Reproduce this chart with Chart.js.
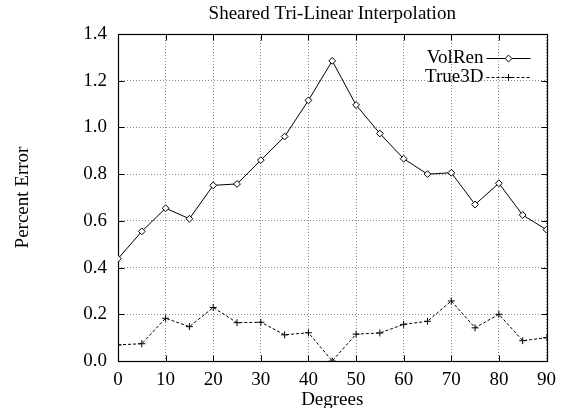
<!DOCTYPE html>
<html><head><meta charset="utf-8">
<script src="https://cdn.jsdelivr.net/npm/chart.js@4/dist/chart.umd.min.js"></script>
<style>html,body{margin:0;padding:0;background:#fff}</style>
</head><body>
<canvas id="c" width="564" height="408"></canvas>
<script>
const degrees = [0,5,10,15,20,25,30,35,40,45,50,55,60,65,70,75,80,85,90];
const volRen  = [0.438,0.555,0.654,0.609,0.752,0.758,0.860,0.961,1.116,1.285,1.096,0.974,0.866,0.800,0.806,0.670,0.761,0.625,0.562];
const true3D  = [0.069,0.074,0.183,0.147,0.229,0.164,0.166,0.112,0.121,0.000,0.115,0.120,0.157,0.170,0.257,0.142,0.200,0.087,0.100];
const xTicks = [0,10,20,30,40,50,60,70,80,90];
const yTicks = [0.0,0.2,0.4,0.6,0.8,1.0,1.2,1.4];
const seriesNames = ['VolRen','True3D'];
const titleText = 'Sheared Tri-Linear Interpolation';
const xTitle = 'Degrees';
const yTitle = 'Percent Error';

const FONT = "'Liberation Serif','Times New Roman',serif";
Chart.defaults.font.family = FONT;
Chart.defaults.color = '#000';

const framePlugin = {
  id: 'frame',
  beforeDatasetsDraw(chart) {
    const {ctx, chartArea, scales} = chart;
    const L = Math.round(chartArea.left) + 0.5, R = Math.round(chartArea.right) + 0.5;
    const T = Math.round(chartArea.top) + 0.5, B = Math.round(chartArea.bottom) + 0.5;
    ctx.save();
    ctx.strokeStyle = '#000';
    ctx.lineWidth = 1.2;
    ctx.setLineDash([]);
    ctx.strokeRect(L, T, R - L, B - T);
    const tl = 6;
    ctx.lineWidth = 1;
    ctx.beginPath();
    xTicks.forEach(v => {
      const px = Math.round(scales.x.getPixelForValue(v)) + 0.5;
      ctx.moveTo(px, B); ctx.lineTo(px, B - tl);
      ctx.moveTo(px, T); ctx.lineTo(px, T + tl);
    });
    yTicks.forEach(v => {
      const py = Math.round(scales.y.getPixelForValue(v)) + 0.5;
      ctx.moveTo(L, py); ctx.lineTo(L + tl, py);
      ctx.moveTo(R, py); ctx.lineTo(R - tl, py);
    });
    ctx.stroke();
    ctx.restore();
  }
};

const legendPlugin = {
  id: 'customLegend',
  afterDatasetsDraw(chart) {
    const {ctx, chartArea} = chart;
    const lineEnd = chartArea.right - 16;
    const lineStart = lineEnd - 44;
    const textRight = lineStart - 3;
    const rows = [chartArea.top + 24, chartArea.top + 43];
    ctx.save();
    chart.data.datasets.forEach((ds, i) => {
      const y = rows[i];
      ctx.font = '19px ' + FONT;
      ctx.fillStyle = '#000';
      ctx.textAlign = 'right';
      ctx.textBaseline = 'middle';
      ctx.fillText(ds.label, textRight, y);
      ctx.strokeStyle = ds.borderColor;
      ctx.lineWidth = ds.borderWidth;
      ctx.setLineDash(ds.borderDash || []);
      ctx.beginPath();
      ctx.moveTo(lineStart, Math.round(y) + 0.5);
      ctx.lineTo(lineEnd, Math.round(y) + 0.5);
      ctx.stroke();
      ctx.setLineDash([]);
      ctx.fillStyle = '#fff';
      ctx.strokeStyle = '#000';
      ctx.lineWidth = 1;
      Chart.helpers.drawPoint(ctx, {
        pointStyle: ds.pointStyle, radius: ds.pointRadius, rotation: 0, borderWidth: 1
      }, (lineStart + lineEnd) / 2, Math.round(y) + 0.5);
    });
    ctx.restore();
  }
};

new Chart(document.getElementById('c'), {
  type: 'line',
  data: {
    datasets: [
      {
        label: seriesNames[0],
        data: degrees.map((d, i) => ({x: d, y: volRen[i]})),
        borderColor: '#000', borderWidth: 1, backgroundColor: 'rgba(0,0,0,0)',
        pointStyle: 'rectRot', pointRadius: 3.4, pointBorderWidth: 1,
        pointBorderColor: '#000', pointBackgroundColor: '#fff',
        tension: 0, fill: false
      },
      {
        label: seriesNames[1],
        data: degrees.map((d, i) => ({x: d, y: true3D[i]})),
        borderColor: '#000', borderWidth: 1, borderDash: [3, 2], backgroundColor: 'rgba(0,0,0,0)',
        pointStyle: 'cross', pointRadius: 3.5, pointBorderWidth: 1,
        pointBorderColor: '#000', pointBackgroundColor: 'rgba(0,0,0,0)',
        tension: 0, fill: false
      }
    ]
  },
  options: {
    responsive: false,
    animation: false,
    devicePixelRatio: 1,
    layout: {padding: {left: 0, right: 13, top: 0, bottom: 0}},
    plugins: {
      legend: {display: false},
      tooltip: {enabled: false},
      title: {
        display: true, text: titleText, color: '#000', fullSize: false,
        font: {family: FONT, size: 19, weight: 'normal'},
        padding: {top: 3, bottom: 8.2}
      }
    },
    scales: {
      x: {
        type: 'linear', min: 0, max: 90,
        afterBuildTicks: s => { s.ticks = xTicks.map(v => ({value: v})); },
        afterFit: s => { s.height = 47; },
        ticks: {font: {family: FONT, size: 19}, color: '#000', padding: 8, maxRotation: 0, callback: v => String(v)},
        grid: {color: '#8a8a8a', lineWidth: 1, drawTicks: false},
        border: {display: false, dash: [1, 2]},
        title: {display: true, text: xTitle, color: '#000', font: {family: FONT, size: 19}, padding: {top: -3, bottom: -3}}
      },
      y: {
        type: 'linear', min: 0, max: 1.4,
        afterBuildTicks: s => { s.ticks = yTicks.map(v => ({value: v})); },
        afterFit: s => { s.width = 118; },
        ticks: {font: {family: FONT, size: 19}, color: '#000', padding: 11, callback: v => Number(v).toFixed(1)},
        grid: {color: '#8a8a8a', lineWidth: 1, drawTicks: false},
        border: {display: false, dash: [1, 2]},
        title: {display: true, text: yTitle, color: '#000', font: {family: FONT, size: 19}, padding: {top: 11.6, bottom: 0}}
      }
    }
  },
  plugins: [framePlugin, legendPlugin]
});
</script>
</body></html>
